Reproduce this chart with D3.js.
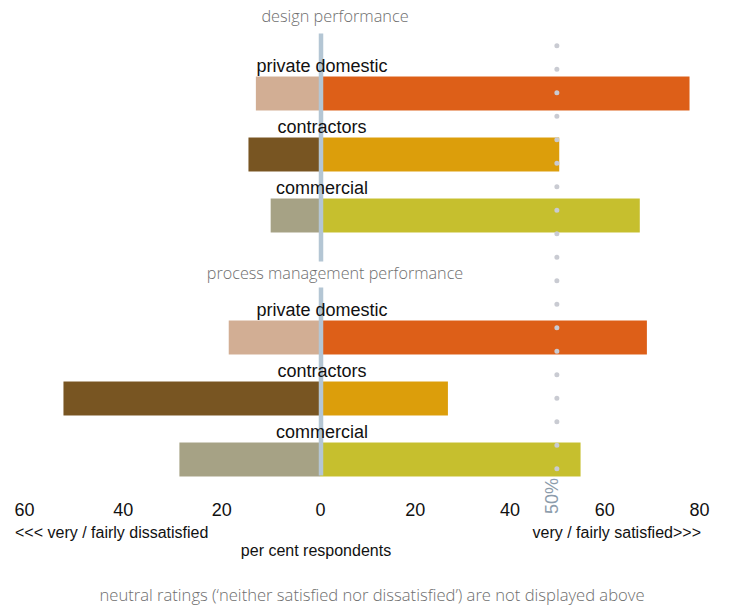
<!DOCTYPE html>
<html>
<head>
<meta charset="utf-8">
<script src="https://cdn.jsdelivr.net/npm/d3@7"></script>
<style>
  html, body { margin: 0; padding: 0; background: #ffffff; }
  svg { display: block; }
</style>
</head>
<body>
<div id="chart"></div>
<script>
// Survey results: share of respondents dissatisfied (left) / satisfied (right)
const sections = ["design performance", "process management performance"];
const categories = ["private domestic", "contractors", "commercial"];

const designDissatisfied  = [13, 14.5, 10];
const designSatisfied     = [78, 50.5, 67.5];
const processDissatisfied = [18.5, 52, 28.5];
const processSatisfied    = [69, 27, 55];

const tickValues = [-60, -40, -20, 0, 20, 40, 60, 80];
const referenceLine = 50;

const darkColors  = ["#d2ae94", "#785522", "#a6a285"];
const lightColors = ["#dd5f18", "#dc9e0b", "#c6bf2e"];

const W = 729, H = 607;

const svg = d3.select("#chart").append("svg")
  .attr("width", W).attr("height", H)
  .style("background", "#ffffff");

// Diverging horizontal scale: negative = dissatisfied, positive = satisfied
const x = d3.scaleLinear().domain([-60, 0, 80]).range([24, 320, 699]);

// Seven row slots: three per section plus a spacer for the second heading
const rows = [
  ...categories.map((c, i) => ({ section: 0, cat: i, neg: designDissatisfied[i], pos: designSatisfied[i] })),
  null,
  ...categories.map((c, i) => ({ section: 1, cat: i, neg: processDissatisfied[i], pos: processSatisfied[i] }))
];
const y = d3.scaleBand().domain(d3.range(rows.length))
  .range([63, 490]).paddingInner(0.443).paddingOuter(0.2215);
const bw = y.bandwidth();

const data = rows.map((r, i) => r && Object.assign({ slot: i }, r)).filter(Boolean);

// Bars
const g = svg.append("g");
g.selectAll("rect.neg").data(data).join("rect")
  .attr("class", "neg")
  .attr("x", d => x(-d.neg)).attr("y", d => y(d.slot))
  .attr("width", d => x(0) - x(-d.neg)).attr("height", bw)
  .attr("fill", d => darkColors[d.cat]);
g.selectAll("rect.pos").data(data).join("rect")
  .attr("class", "pos")
  .attr("x", x(0)).attr("y", d => y(d.slot))
  .attr("width", d => x(d.pos) - x(0)).attr("height", bw)
  .attr("fill", d => lightColors[d.cat]);

// Zero line, split around the second heading
const zx = x(0) + 1;
[[y(0) - 43, y(3) + 2], [y(4) - 33, y(6) + bw - 1]].forEach(([a, b]) => {
  svg.append("line")
    .attr("x1", zx).attr("x2", zx).attr("y1", a).attr("y2", b)
    .attr("stroke", "#b4c6d4").attr("stroke-width", 4.5);
});

// Dotted 50% reference line
svg.append("line")
  .attr("x1", x(referenceLine)).attr("x2", x(referenceLine))
  .attr("y1", 45.7).attr("y2", 472)
  .attr("stroke", "#c9cbd2").attr("stroke-width", 5)
  .attr("stroke-linecap", "round")
  .attr("stroke-dasharray", "0 23.5");

svg.append("text")
  .attr("transform", `translate(${x(referenceLine) - 5},${496}) rotate(-90)`)
  .attr("text-anchor", "middle").attr("dominant-baseline", "central")
  .attr("font-family", "Liberation Sans, Arial, sans-serif")
  .attr("font-size", 18).attr("fill", "#8c9cab")
  .text(referenceLine + "%");

// Category labels above each bar
svg.selectAll("text.cat").data(data).join("text")
  .attr("class", "cat")
  .attr("x", x(0) + 2).attr("y", d => y(d.slot) - 4.5)
  .attr("text-anchor", "middle")
  .attr("font-family", "Liberation Sans, Arial, sans-serif")
  .attr("font-size", 18).attr("fill", "#111111")
  .text(d => categories[d.cat]);

// Section headings
const headingFont = "'Open Sans', 'Noto Sans', sans-serif";
svg.append("text")
  .attr("x", 335).attr("y", 22)
  .attr("text-anchor", "middle")
  .attr("font-family", headingFont).attr("font-weight", 300)
  .attr("font-size", 16.3).attr("fill", "#6e6e6e")
  .text(sections[0]);
svg.append("text")
  .attr("x", 335).attr("y", y(3) + bw / 2 + 2)
  .attr("text-anchor", "middle")
  .attr("font-family", headingFont).attr("font-weight", 300)
  .attr("font-size", 16.2).attr("fill", "#6e6e6e")
  .text(sections[1]);

// Axis tick labels (absolute percentages on both sides)
const axis = d3.axisBottom(x).tickValues(tickValues)
  .tickFormat(d => Math.abs(d)).tickSize(0).tickPadding(0);
const axisG = svg.append("g").attr("transform", "translate(0,502)").call(axis);
axisG.select(".domain").remove();
axisG.selectAll("text")
  .attr("font-family", "Liberation Sans, Arial, sans-serif")
  .attr("font-size", 18).attr("fill", "#111111")
  .attr("dy", "0.8em");

const axisFont = "Liberation Sans, Arial, sans-serif";
svg.append("text").attr("x", 15).attr("y", 538)
  .attr("font-family", axisFont).attr("font-size", 16).attr("fill", "#111")
  .text("<<< very / fairly dissatisfied");
svg.append("text").attr("x", 701).attr("y", 538).attr("text-anchor", "end")
  .attr("font-family", axisFont).attr("font-size", 16).attr("fill", "#111")
  .text("very / fairly satisfied>>>");
svg.append("text").attr("x", 316).attr("y", 556).attr("text-anchor", "middle")
  .attr("font-family", axisFont).attr("font-size", 16).attr("fill", "#111")
  .text("per cent respondents");

// Footnote
svg.append("text").attr("x", 372).attr("y", 601).attr("text-anchor", "middle")
  .attr("font-family", headingFont).attr("font-weight", 300)
  .attr("font-size", 16.6).attr("fill", "#6e6e6e")
  .text("neutral ratings (\u2018neither satisfied nor dissatisfied\u2019) are not displayed above");
</script>
</body>
</html>
